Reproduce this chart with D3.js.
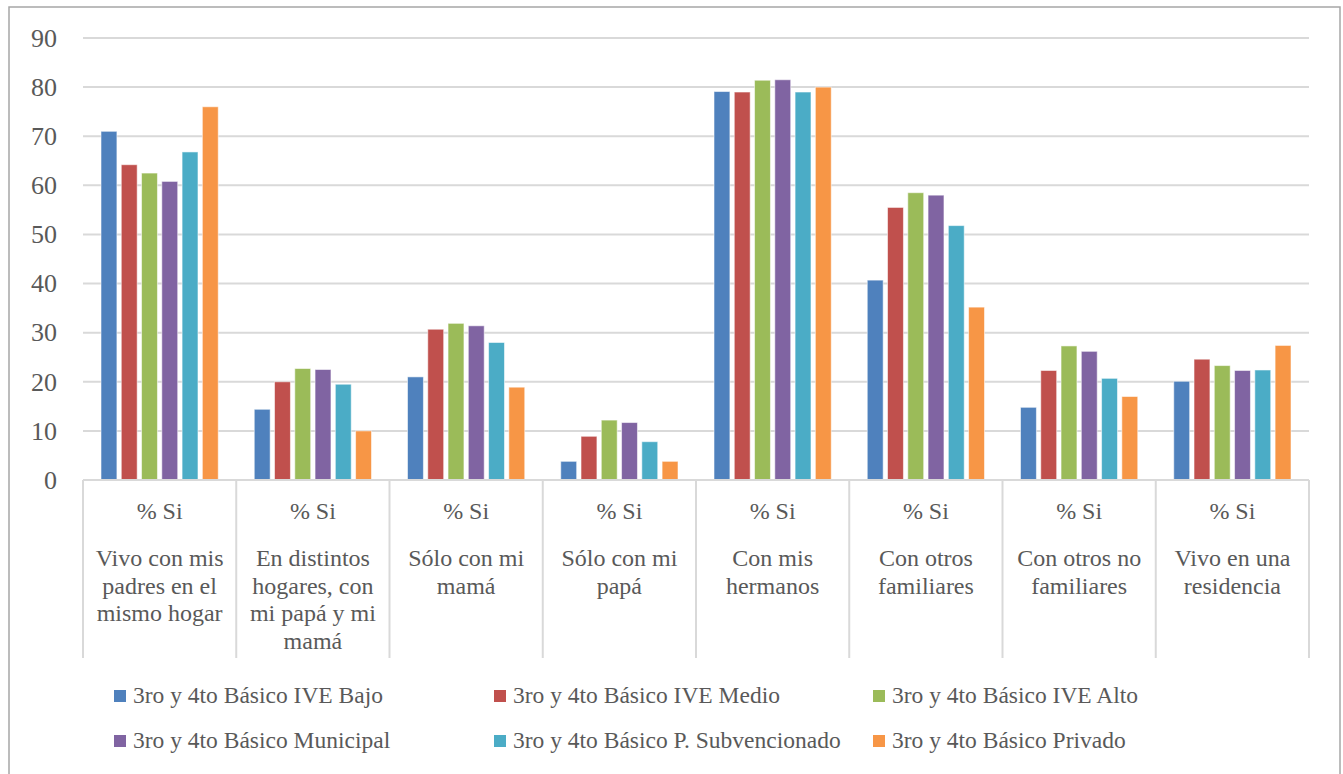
<!DOCTYPE html>
<html>
<head>
<meta charset="utf-8">
<script src="https://cdn.jsdelivr.net/npm/d3@7"></script>
<style>
  html, body { margin: 0; padding: 0; background: #ffffff; }
  svg { display: block; }
  text { font-family: "Liberation Serif", "DejaVu Serif", serif; fill: #595959; }
</style>
</head>
<body>
<svg id="chart" width="1343" height="774"></svg>
<script>
// ---- Data ----
const categories = [
  ["Vivo con mis", "padres en el", "mismo hogar"],
  ["En distintos", "hogares, con", "mi papá y mi", "mamá"],
  ["Sólo con mi", "mamá"],
  ["Sólo con mi", "papá"],
  ["Con mis", "hermanos"],
  ["Con otros", "familiares"],
  ["Con otros no", "familiares"],
  ["Vivo en una", "residencia"]
];
const subLabel = "% Si";

const seriesNames = [
  "3ro y 4to Básico IVE Bajo",
  "3ro y 4to Básico IVE Medio",
  "3ro y 4to Básico IVE Alto",
  "3ro y 4to Básico Municipal",
  "3ro y 4to Básico P. Subvencionado",
  "3ro y 4to Básico Privado"
];
const ivBajo        = [71.0, 14.4, 21.0, 3.8, 79.1, 40.7, 14.8, 20.1];
const ivMedio       = [64.2, 20.0, 30.7, 8.9, 79.0, 55.5, 22.3, 24.6];
const ivAlto        = [62.5, 22.7, 31.9, 12.2, 81.4, 58.5, 27.3, 23.3];
const municipal     = [60.8, 22.5, 31.4, 11.7, 81.5, 58.0, 26.2, 22.3];
const subvencionado = [66.8, 19.5, 28.0, 7.8, 79.0, 51.8, 20.7, 22.4];
const privado       = [76.0, 10.0, 18.9, 3.8, 80.0, 35.2, 17.0, 27.4];
const seriesValues = [ivBajo, ivMedio, ivAlto, municipal, subvencionado, privado];
const seriesColors = ["#4F81BD", "#C0504D", "#9BBB59", "#8064A2", "#4BACC6", "#F79646"];
const yTicks = [0, 10, 20, 30, 40, 50, 60, 70, 80, 90];

// ---- Layout ----
const svg = d3.select("#chart");
const plotLeft = 83, plotRight = 1309, plotTop = 38, plotBottom = 480;

// outer chart border
svg.append("rect")
  .attr("x", 9).attr("y", 7)
  .attr("width", 1331).attr("height", 800)
  .attr("fill", "none").attr("stroke", "#A6A6A6").attr("stroke-width", 1.5);

const catIdx = categories.map((d, i) => i);
const x0 = d3.scaleBand().domain(catIdx).range([plotLeft, plotRight]).paddingInner(0).paddingOuter(0);
const x1 = d3.scaleBand().domain(d3.range(seriesNames.length))
  .range([18, x0.bandwidth() - 18]).paddingInner(0.215).paddingOuter(0);
const y = d3.scaleLinear().domain([0, 90]).range([plotBottom, plotTop]);

// gridlines
svg.append("g")
  .selectAll("line").data(yTicks.filter(t => t > 0)).join("line")
  .attr("x1", plotLeft).attr("x2", plotRight)
  .attr("y1", d => y(d)).attr("y2", d => y(d))
  .attr("stroke", "#D9D9D9").attr("stroke-width", 2);

// y axis labels
const yAxis = d3.axisLeft(y).tickValues(yTicks).tickSize(0).tickPadding(26);
const yg = svg.append("g").attr("transform", `translate(${plotLeft},0)`).call(yAxis);
yg.select(".domain").remove();
yg.selectAll("text")
  .attr("font-size", "26px")
  .attr("font-family", "Liberation Serif, serif")
  .attr("fill", "#595959");

// bars
const groups = svg.append("g").selectAll("g").data(catIdx).join("g")
  .attr("transform", d => `translate(${x0(d)},0)`);
groups.selectAll("rect")
  .data(ci => seriesValues.map((vals, si) => ({ si, v: vals[ci] })))
  .join("rect")
  .attr("x", d => x1(d.si))
  .attr("width", x1.bandwidth())
  .attr("y", d => y(d.v))
  .attr("height", d => y(0) - y(d.v))
  .attr("fill", d => seriesColors[d.si])
  .attr("stroke", "#ffffff").attr("stroke-opacity", 0.55).attr("stroke-width", 1);

// category axis line and separators
svg.append("line")
  .attr("x1", plotLeft).attr("x2", plotRight)
  .attr("y1", plotBottom).attr("y2", plotBottom)
  .attr("stroke", "#D9D9D9").attr("stroke-width", 2);
const bounds = d3.range(categories.length + 1).map(i => plotLeft + i * x0.step());
svg.append("g").selectAll("line").data(bounds).join("line")
  .attr("x1", d => d).attr("x2", d => d)
  .attr("y1", plotBottom).attr("y2", 658)
  .attr("stroke", "#D9D9D9").attr("stroke-width", 2);

// category labels
const labG = svg.append("g").selectAll("g").data(catIdx).join("g")
  .attr("transform", d => `translate(${x0(d) + x0.bandwidth() / 2},0)`);
labG.append("text")
  .attr("y", 519).attr("text-anchor", "middle").attr("font-size", "24px")
  .text(subLabel);
labG.append("text")
  .attr("text-anchor", "middle").attr("font-size", "24px")
  .selectAll("tspan").data(d => categories[d]).join("tspan")
  .attr("x", 0).attr("y", (d, i) => 566 + i * 27.7)
  .text(d => d);

// legend
const legX = [114, 494, 873];
const legY = [703, 748];
const leg = svg.append("g").selectAll("g").data(seriesNames).join("g")
  .attr("transform", (d, i) => `translate(${legX[i % 3]},${legY[Math.floor(i / 3)]})`);
leg.append("rect")
  .attr("x", 0).attr("y", -13).attr("width", 12).attr("height", 12)
  .attr("fill", (d, i) => seriesColors[i]);
leg.append("text")
  .attr("x", 19).attr("y", 0).attr("font-size", "23.5px")
  .text(d => d);
</script>
</body>
</html>
